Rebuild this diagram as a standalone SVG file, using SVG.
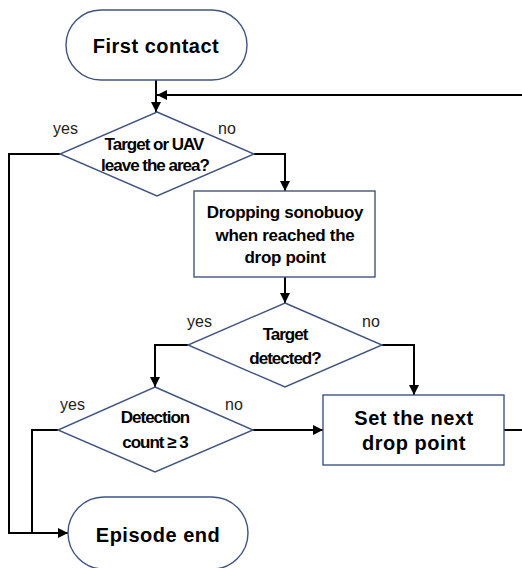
<svg xmlns="http://www.w3.org/2000/svg" width="522" height="568" viewBox="0 0 522 568">
<style>
.shape{fill:#fff;stroke:#3f5480;stroke-width:1.4}
.line{fill:none;stroke:#000;stroke-width:2}
.arr{marker-end:url(#ah)}
.t{font-family:"Liberation Sans",Arial,sans-serif;font-weight:bold;fill:#000;text-anchor:middle}
.dt{font-size:17px;letter-spacing:-1px}
.bt{font-size:17px;letter-spacing:-0.3px}
.big{font-size:20px;letter-spacing:0.5px}
.lbl{font-family:"Liberation Sans",Arial,sans-serif;font-size:16px;fill:#222}
</style>
<defs>
<marker id="ah" viewBox="0 0 10 10" refX="10" refY="5" markerWidth="5" markerHeight="5" orient="auto" markerUnits="strokeWidth">
<path d="M0,0 L10,5 L0,10 z" fill="#000"/>
</marker>
</defs>
<g id="connectors">
<path class="line arr" d="M156,80 V112"/>
<path class="line arr" d="M522,95 H157"/>
<path class="line arr" d="M60,154 H9 V533 H68"/>
<path class="line arr" d="M254,154 H285 V191"/>
<path class="line arr" d="M285,277 V303"/>
<path class="line arr" d="M188,345 H155 V387"/>
<path class="line arr" d="M382,345 H414 V395"/>
<path class="line" d="M58,430 H32 V533"/>
<path class="line arr" d="M253,430 H323"/>
<path class="line" d="M504,430 H522"/>
</g>
<g id="first-contact">
<rect class="shape" x="66" y="10" width="181" height="70" rx="35"/>
<text class="t big" x="156" y="53">First contact</text>
</g>
<g id="leave-area">
<polygon class="shape" points="157,112 254,154 157,196 60,154"/>
<text class="t dt" x="154" y="150">Target or UAV</text>
<text class="t dt" x="155" y="171">leave the area?</text>
<text class="lbl" x="53" y="134">yes</text>
<text class="lbl" x="218" y="134">no</text>
</g>
<g id="dropping">
<rect class="shape" x="194" y="191" width="181" height="86"/>
<text class="t bt" x="285" y="218">Dropping sonobuoy</text>
<text class="t bt" x="285" y="241">when reached the</text>
<text class="t bt" x="285" y="263">drop point</text>
</g>
<g id="target-detected">
<polygon class="shape" points="285,303 382,345 285,387 188,345"/>
<text class="t dt" x="285" y="340">Target</text>
<text class="t dt" x="285" y="364">detected?</text>
<text class="lbl" x="187" y="327">yes</text>
<text class="lbl" x="362" y="327">no</text>
</g>
<g id="detection-count">
<polygon class="shape" points="155,387 253,430 155,472 58,430"/>
<text class="t dt" x="155" y="423">Detection</text>
<text class="t dt" x="155" y="448">count ≥ 3</text>
<text class="lbl" x="60" y="410">yes</text>
<text class="lbl" x="225" y="410">no</text>
</g>
<g id="next-drop">
<rect class="shape" x="323" y="395" width="181" height="70"/>
<text class="t big" x="414" y="425">Set the next</text>
<text class="t big" x="414" y="450">drop point</text>
</g>
<g id="episode-end">
<rect class="shape" x="68" y="497" width="180" height="72" rx="36"/>
<text class="t big" x="158" y="542">Episode end</text>
</g>
</svg>
